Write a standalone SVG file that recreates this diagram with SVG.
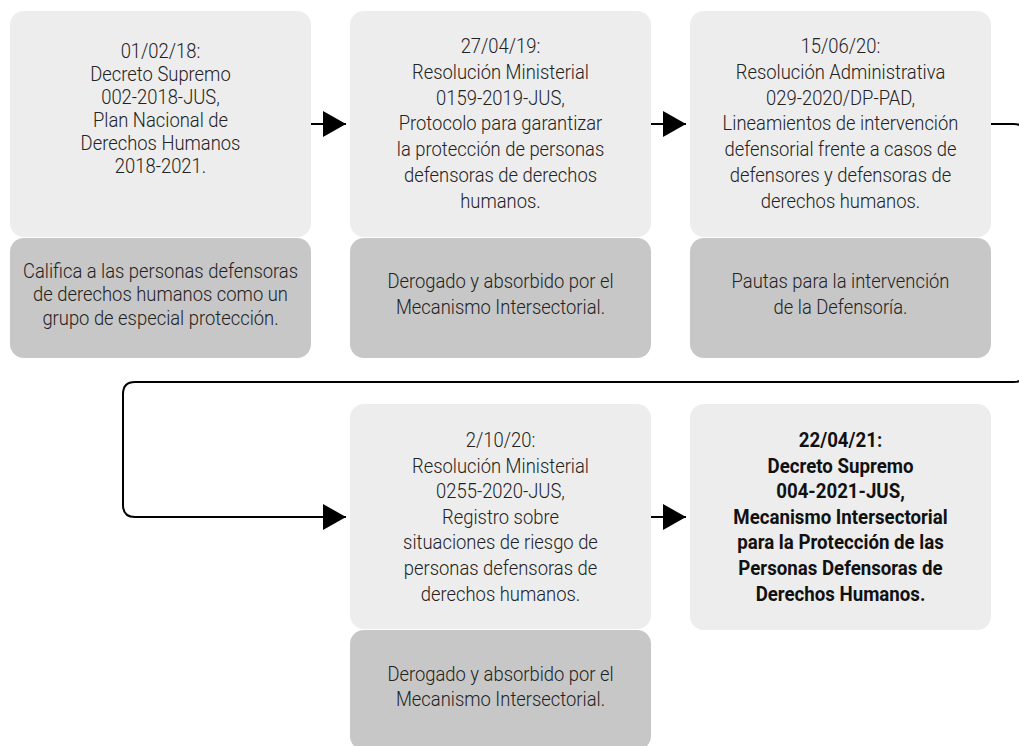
<svg xmlns="http://www.w3.org/2000/svg" width="1019" height="746" viewBox="0 0 1019 746">
<style>
.t{font-family:Roboto,"Liberation Sans",sans-serif;font-size:21px;font-weight:300;fill:#222;text-anchor:middle}
.b{font-weight:700;fill:#111}
.top{fill:#ededed}
.bot{fill:#c7c7c7}
.c{fill:none;stroke:#000;stroke-width:2}
</style>
<defs>
<marker id="ah" markerUnits="userSpaceOnUse" markerWidth="23" markerHeight="26" refX="23" refY="13" orient="auto" viewBox="0 0 23 26">
<path d="M0,0 L23,13 L0,26 Z" fill="#000"/>
</marker>
</defs>
<rect width="1019" height="746" fill="#fff"/>
<g id="connectors">
<path class="c" d="M311,124 H346" marker-end="url(#ah)"/>
<path class="c" d="M651,124 H686" marker-end="url(#ah)"/>
<path class="c" d="M991,124 H1014 Q1024,124 1024,134 V372 Q1024,382 1014,382 H135 Q123,382 123,394 V505 Q123,517 135,517 H346" marker-end="url(#ah)"/>
<path class="c" d="M651,517 H686" marker-end="url(#ah)"/>
</g>
<g id="node1">
<rect class="top" x="10" y="11" width="301" height="226" rx="14"/>
<text class="t" transform="translate(160.5,0) scale(0.876,1)"><tspan x="0" y="58.5">01/02/18:</tspan><tspan x="0" y="81.5">Decreto Supremo</tspan><tspan x="0" y="104.5">002-2018-JUS,</tspan><tspan x="0" y="127.5">Plan Nacional de</tspan><tspan x="0" y="150.5">Derechos Humanos</tspan><tspan x="0" y="173.5">2018-2021.</tspan></text>
</g>
<g id="node1-note">
<rect class="bot" x="10" y="238" width="301" height="120" rx="14"/>
<text class="t" transform="translate(160.5,0) scale(0.876,1)"><tspan x="0" y="278">Califica a las personas defensoras</tspan><tspan x="0" y="301.5">de derechos humanos como un</tspan><tspan x="0" y="325">grupo de especial protección.</tspan></text>
</g>
<g id="node2">
<rect class="top" x="350" y="11" width="301" height="226" rx="14"/>
<text class="t" transform="translate(500.5,0) scale(0.876,1)"><tspan x="0" y="53">27/04/19:</tspan><tspan x="0" y="78.8">Resolución Ministerial</tspan><tspan x="0" y="104.6">0159-2019-JUS,</tspan><tspan x="0" y="130.4">Protocolo para garantizar</tspan><tspan x="0" y="156.2">la protección de personas</tspan><tspan x="0" y="182">defensoras de derechos</tspan><tspan x="0" y="207.8">humanos.</tspan></text>
</g>
<g id="node2-note">
<rect class="bot" x="350" y="238" width="301" height="120" rx="14"/>
<text class="t" transform="translate(500.5,0) scale(0.876,1)"><tspan x="0" y="288.5">Derogado y absorbido por el</tspan><tspan x="0" y="314.5">Mecanismo Intersectorial.</tspan></text>
</g>
<g id="node3">
<rect class="top" x="690" y="11" width="301" height="226" rx="14"/>
<text class="t" transform="translate(840.5,0) scale(0.876,1)"><tspan x="0" y="53">15/06/20:</tspan><tspan x="0" y="78.8">Resolución Administrativa</tspan><tspan x="0" y="104.6">029-2020/DP-PAD,</tspan><tspan x="0" y="130.4">Lineamientos de intervención</tspan><tspan x="0" y="156.2">defensorial frente a casos de</tspan><tspan x="0" y="182">defensores y defensoras de</tspan><tspan x="0" y="207.8">derechos humanos.</tspan></text>
</g>
<g id="node3-note">
<rect class="bot" x="690" y="238" width="301" height="120" rx="14"/>
<text class="t" transform="translate(840.5,0) scale(0.876,1)"><tspan x="0" y="288.5">Pautas para la intervención</tspan><tspan x="0" y="314.5">de la Defensoría.</tspan></text>
</g>
<g id="node4">
<rect class="top" x="350" y="404" width="301" height="225" rx="14"/>
<text class="t" transform="translate(500.5,0) scale(0.876,1)"><tspan x="0" y="447">2/10/20:</tspan><tspan x="0" y="472.6">Resolución Ministerial</tspan><tspan x="0" y="498.2">0255-2020-JUS,</tspan><tspan x="0" y="523.8">Registro sobre</tspan><tspan x="0" y="549.4">situaciones de riesgo de</tspan><tspan x="0" y="575">personas defensoras de</tspan><tspan x="0" y="600.6">derechos humanos.</tspan></text>
</g>
<g id="node4-note">
<rect class="bot" x="350" y="630" width="301" height="120" rx="14"/>
<text class="t" transform="translate(500.5,0) scale(0.876,1)"><tspan x="0" y="681.5">Derogado y absorbido por el</tspan><tspan x="0" y="706.5">Mecanismo Intersectorial.</tspan></text>
</g>
<g id="node5">
<rect class="top" x="690" y="404" width="301" height="226" rx="14"/>
<text class="t b" transform="translate(840.5,0) scale(0.89,1)"><tspan x="0" y="447">22/04/21:</tspan><tspan x="0" y="472.6">Decreto Supremo</tspan><tspan x="0" y="498.2">004-2021-JUS,</tspan><tspan x="0" y="523.8">Mecanismo Intersectorial</tspan><tspan x="0" y="549.4">para la Protección de las</tspan><tspan x="0" y="575">Personas Defensoras de</tspan><tspan x="0" y="600.6">Derechos Humanos.</tspan></text>
</g>
</svg>
